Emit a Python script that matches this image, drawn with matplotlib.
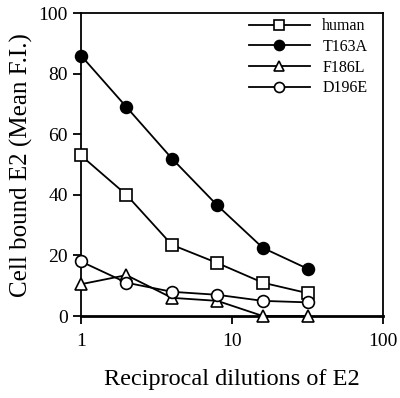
import numpy as np
import matplotlib.pyplot as plt

plt.rcParams['font.family'] = ['Liberation Serif', 'DejaVu Serif']

dilution = [1, 2, 4, 8, 16, 32]
human = [53, 40, 23.5, 17.5, 11, 7.5]
t163a = [86, 69, 52, 36.5, 22.5, 15.5]
f186l = [10.5, 13.5, 6, 5, 0, 0]
d196e = [18, 11, 8, 7, 5, 4.5]

fig = plt.figure(figsize=(4, 3.98), dpi=100)
ax = fig.add_axes([0.2025, 0.206, 0.755, 0.761])

kw = dict(color='black', lw=1.3, markersize=8.5, markeredgewidth=1.2, clip_on=False, zorder=3)
ax.plot(dilution, human, marker='s', mfc='white', mec='black', label='human', **kw)
ax.plot(dilution, t163a, marker='o', mfc='black', mec='black', label='T163A', **kw)
ax.plot(dilution, f186l, marker='^', mfc='white', mec='black', label='F186L', **kw)
ax.plot(dilution, d196e, marker='o', mfc='white', mec='black', label='D196E', **kw)

ax.set_xscale('log')
ax.set_xlim(1, 100)
ax.set_ylim(0, 100)
ax.set_xticks([1, 10, 100])
ax.set_xticklabels(['1', '10', '100'])
ax.minorticks_off()
ax.set_yticks([0, 20, 40, 60, 80, 100])
ax.tick_params(axis='both', direction='out', length=6, width=1.3, labelsize=14)
ax.tick_params(axis='x', pad=6)
for s in ax.spines.values():
    s.set_linewidth(1.3)
ax.spines['bottom'].set_linewidth(2)

ax.set_xlabel('Reciprocal dilutions of E2', fontsize=17.5, labelpad=14)
ax.set_ylabel('Cell bound E2 (Mean F.I.)', fontsize=18, labelpad=4)

ax.legend(loc='upper right', bbox_to_anchor=(0.975, 1.01), frameon=False,
          fontsize=11.5, handlelength=3.8, handletextpad=0.8,
          labelspacing=0.3, borderaxespad=0.1, markerscale=0.85)

fig.savefig('out.png', dpi=100)
